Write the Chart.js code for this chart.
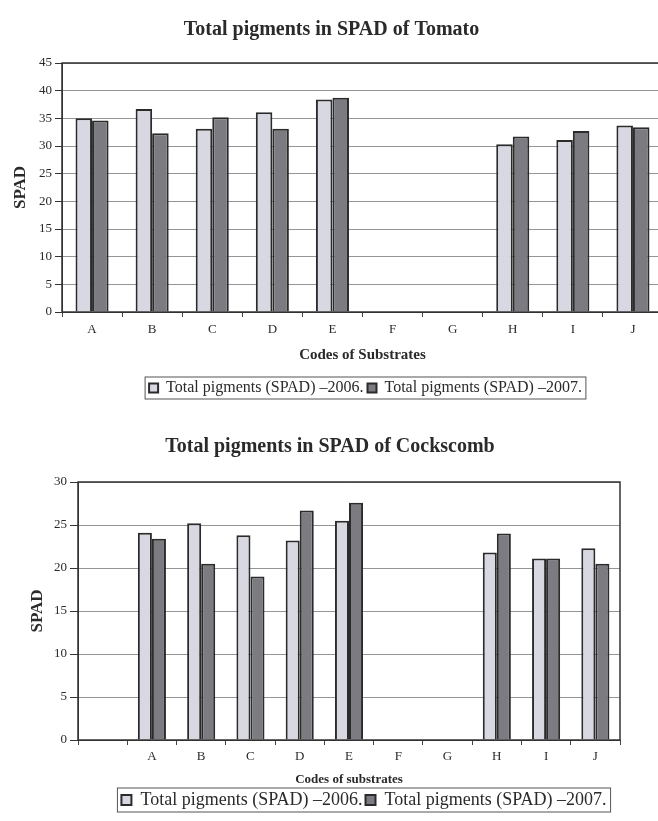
<!DOCTYPE html>
<html>
<head>
<meta charset="utf-8">
<title>Total pigments in SPAD</title>
<script src="https://cdn.jsdelivr.net/npm/chart.js@4.4.0/dist/chart.umd.min.js"></script>
<style>
  html, body { margin: 0; padding: 0; background: #fff; overflow: hidden; }
  #tomato { position: absolute; left: 0; top: 0; }
  #cockscomb { position: absolute; left: 0; top: 410px; }
</style>
</head>
<body>
<canvas id="tomato" width="664" height="410"></canvas>
<canvas id="cockscomb" width="658" height="411"></canvas>
<script>
// data (F and G have no bars)
const tomatoCodes = ['A', 'B', 'C', 'D', 'E', 'F', 'G', 'H', 'I', 'J'];
const tomato2006 = [35.0, 36.7, 33.1, 36.1, 38.4, null, null, 30.3, 31.1, 33.7];
const tomato2007 = [34.6, 32.3, 35.2, 33.1, 38.7, null, null, 31.7, 32.7, 33.4];
const tomatoMax = 45;

// cockscomb chart has an empty first slot before A
const cockCodes = ['', 'A', 'B', 'C', 'D', 'E', 'F', 'G', 'H', 'I', 'J'];
const cock2006 = [null, 24.1, 25.2, 23.8, 23.2, 25.5, null, null, 21.8, 21.1, 22.3];
const cock2007 = [null, 23.4, 20.5, 19.0, 26.7, 27.6, null, null, 24.0, 21.1, 20.5];
const cockMax = 30;

const seriesNames = ['Total pigments (SPAD) \u20132006.', 'Total pigments (SPAD) \u20132007.'];
const tickStep = 5;

const serif = "'Liberation Serif', 'Times New Roman', serif";
const light = '#d8d8e2';
const dark = '#7b7b81';
const edge = '#2b2b2b';
const ink = '#2a2a2a';

// box around plot area + box around legend
const frame = {
  id: 'frame',
  afterDraw(chart) {
    const ctx = chart.ctx;
    const a = chart.chartArea;
    ctx.save();
    ctx.strokeStyle = '#333';
    ctx.lineWidth = 1.5;
    ctx.strokeRect(a.left, a.top, a.right - a.left, a.bottom - a.top);

    const boxes = chart.legend.legendHitBoxes;
    if (boxes && boxes.length) {
      const l = Math.min(...boxes.map(b => b.left)) - 4;
      const r = Math.max(...boxes.map(b => b.left + b.width)) + 4;
      const t = boxes[0].top - 3;
      ctx.lineWidth = 1;
      ctx.strokeStyle = '#555';
      ctx.strokeRect(l, t, r - l, boxes[0].height + 6);
    }
    ctx.restore();
  }
};

const makeChart = (id, opt) => {
  // title / legend sit off the plot centre in the scan
  const nudge = {
    id: 'nudge',
    afterLayout(chart) {
      chart.legend.left += opt.legendDx;
      chart.legend.right += opt.legendDx;
      chart.titleBlock.left += opt.titleDx;
      chart.titleBlock.right += opt.titleDx;
    }
  };

  return new Chart(document.getElementById(id), {
    type: 'bar',
    data: {
      labels: opt.labels,
      datasets: [
        { label: seriesNames[0], data: opt.a, backgroundColor: light, borderColor: edge, borderWidth: 2 },
        { label: seriesNames[1], data: opt.b, backgroundColor: dark, borderColor: edge, borderWidth: 2 }
      ]
    },
    options: {
      responsive: false,
      animation: false,
      layout: { padding: opt.pad },
      datasets: { bar: { barPercentage: 1, categoryPercentage: opt.catPct } },
      plugins: {
        title: {
          display: true,
          text: opt.title,
          color: ink,
          font: { family: serif, size: 20, weight: 'bold' },
          padding: opt.titlePad
        },
        legend: {
          position: 'bottom',
          labels: {
            color: ink,
            font: { family: serif, size: opt.legendSize },
            boxWidth: opt.legendBox,
            boxHeight: opt.legendBox,
            padding: opt.legendPad
          }
        },
        tooltip: { enabled: false }
      },
      scales: {
        x: {
          grid: { offset: true, drawOnChartArea: false, tickLength: 5, color: '#444' },
          border: { color: '#333' },
          ticks: { color: ink, padding: opt.xTickPad, font: { family: serif, size: 13 } },
          title: {
            display: true,
            text: opt.xTitle,
            color: ink,
            font: { family: serif, size: opt.xTitleSize, weight: 'bold' },
            padding: { top: 0, bottom: opt.xTitleBottom }
          },
          afterFit: s => { s.height = opt.xHeight; }
        },
        y: {
          min: 0,
          max: opt.max,
          ticks: { stepSize: tickStep, padding: 3, color: ink, font: { family: serif, size: 13 } },
          grid: { color: '#959595', tickColor: '#333', tickLength: opt.yTickLen },
          border: { color: '#333' },
          title: {
            display: true,
            text: 'SPAD',
            color: ink,
            font: { family: serif, size: 17, weight: 'bold' },
            padding: { top: opt.yTitleTop, bottom: 0 }
          },
          afterFit: s => { s.width = opt.yWidth; }
        }
      }
    },
    plugins: [frame, nudge]
  });
};

const tomatoChart = makeChart('tomato', {
  labels: tomatoCodes, a: tomato2006, b: tomato2007, max: tomatoMax,
  title: 'Total pigments in SPAD of Tomato', titleDx: 0,
  titlePad: { top: 18, bottom: 21 },
  xTitle: 'Codes of Substrates', xTitleSize: 15, xTitleBottom: 12,
  xHeight: 64, xTickPad: 5,
  yWidth: 62, yTickLen: 7, yTitleTop: 10,
  legendSize: 16, legendBox: 9, legendPad: 4, legendDx: 34,
  catPct: 0.55,
  pad: { left: 0, right: 1, top: 0, bottom: 4 }
});

const cockChart = makeChart('cockscomb', {
  labels: cockCodes, a: cock2006, b: cock2007, max: cockMax,
  title: 'Total pigments in SPAD of Cockscomb', titleDx: 20,
  titlePad: { top: 25, bottom: 23 },
  xTitle: 'Codes of substrates', xTitleSize: 13, xTitleBottom: 1,
  xHeight: 48, xTickPad: 4,
  yWidth: 78, yTickLen: 8, yTitleTop: 27,
  legendSize: 18, legendBox: 10, legendPad: 3, legendDx: 54,
  catPct: 0.57,
  pad: { left: 0, right: 38, top: 0, bottom: 2 }
});
</script>
</body>
</html>
